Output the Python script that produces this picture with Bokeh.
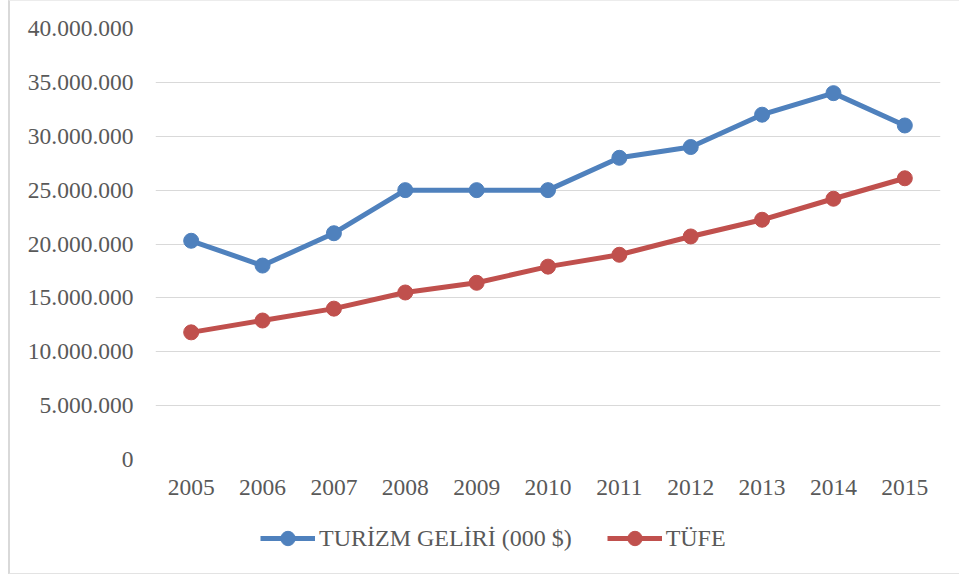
from bokeh.plotting import figure
from bokeh.layouts import column
from bokeh.models import FactorRange, Range1d, CustomJSTickFormatter, Legend, LegendItem, FixedTicker
from bokeh.embed import file_html
from bokeh.resources import INLINE

years = ["2005", "2006", "2007", "2008", "2009", "2010", "2011", "2012", "2013", "2014", "2015"]
turizm = [20300000, 18000000, 21000000, 25000000, 25000000, 25000000, 28000000, 29000000, 32000000, 34000000, 31000000]
tufe = [11800000, 12900000, 14000000, 15500000, 16400000, 17900000, 19000000, 20700000, 22250000, 24200000, 26100000]
y_ticks = [0, 5000000, 10000000, 15000000, 20000000, 25000000, 30000000, 35000000, 40000000]
series_names = ["TURİZM GELİRİ (000 $)", "TÜFE"]

FONT = "Liberation Serif"
TXT = "#595959"
blue = "#4f81bd"
red = "#c0504d"

p = figure(width=949, height=500, x_range=FactorRange(*years, range_padding=0),
           y_range=Range1d(0, 40000000), output_backend="svg", toolbar_location=None,
           min_border_left=145, min_border_right=19, min_border_top=27, min_border_bottom=42)
p.outline_line_color = None
p.background_fill_color = "white"
p.border_fill_color = "white"

p.xgrid.grid_line_color = None
p.ygrid.grid_line_color = "#d9d9d9"
p.ygrid.grid_line_width = 1
p.yaxis.ticker = FixedTicker(ticks=y_ticks)
p.yaxis.formatter = CustomJSTickFormatter(code="return tick.toString().replace(/\\B(?=(\\d{3})+(?!\\d))/g, '.');")

for ax in (p.xaxis[0], p.yaxis[0]):
    ax.axis_line_color = None
    ax.major_tick_line_color = None
    ax.minor_tick_line_color = None
    ax.major_tick_out = 0
    ax.major_tick_in = 0
    ax.major_label_text_font = FONT
    ax.major_label_text_font_size = "23.5px"
    ax.major_label_text_color = TXT
p.yaxis.major_label_standoff = 22
p.xaxis.major_label_standoff = 20

p.line(years, turizm, line_color=blue, line_width=5)
p.scatter(years, turizm, size=15, fill_color=blue, line_color=blue)
p.line(years, tufe, line_color=red, line_width=5)
p.scatter(years, tufe, size=15, fill_color=red, line_color=red)

# legend strip below the chart (same series drawn outside its visible range, only the legend shows)
lg = figure(width=949, height=72, x_range=FactorRange(*years, range_padding=0), y_range=Range1d(-2, -1),
            output_backend="svg", toolbar_location=None, min_border=0)
lg.axis.visible = False
lg.grid.visible = False
lg.outline_line_color = None
ll1 = lg.line(years, turizm, line_color=blue, line_width=5)
ls1 = lg.scatter(years, turizm, size=15, fill_color=blue, line_color=blue)
ll2 = lg.line(years, tufe, line_color=red, line_width=5)
ls2 = lg.scatter(years, tufe, size=15, fill_color=red, line_color=red)

legend = Legend(items=[LegendItem(label=series_names[0], renderers=[ll1, ls1]),
                       LegendItem(label=series_names[1], renderers=[ll2, ls2])],
                orientation="horizontal", location=(105, 17))
legend.label_text_font = FONT
legend.label_text_font_size = "24px"
legend.label_text_color = TXT
legend.glyph_width = 55
legend.glyph_height = 36
legend.label_height = 36
legend.label_standoff = 4
legend.spacing = 35
legend.border_line_color = None
legend.background_fill_alpha = 0
legend.margin = 0
legend.padding = 0
lg.add_layout(legend, "center")

layout = column(p, lg, spacing=0,
                styles={"border-left": "2px solid #d9d9d9", "border-top": "1px solid #ececec",
                        "border-bottom": "1px solid #e3e3e3", "margin-left": "8px"})

open("out.html", "w").write(file_html(layout, INLINE))
